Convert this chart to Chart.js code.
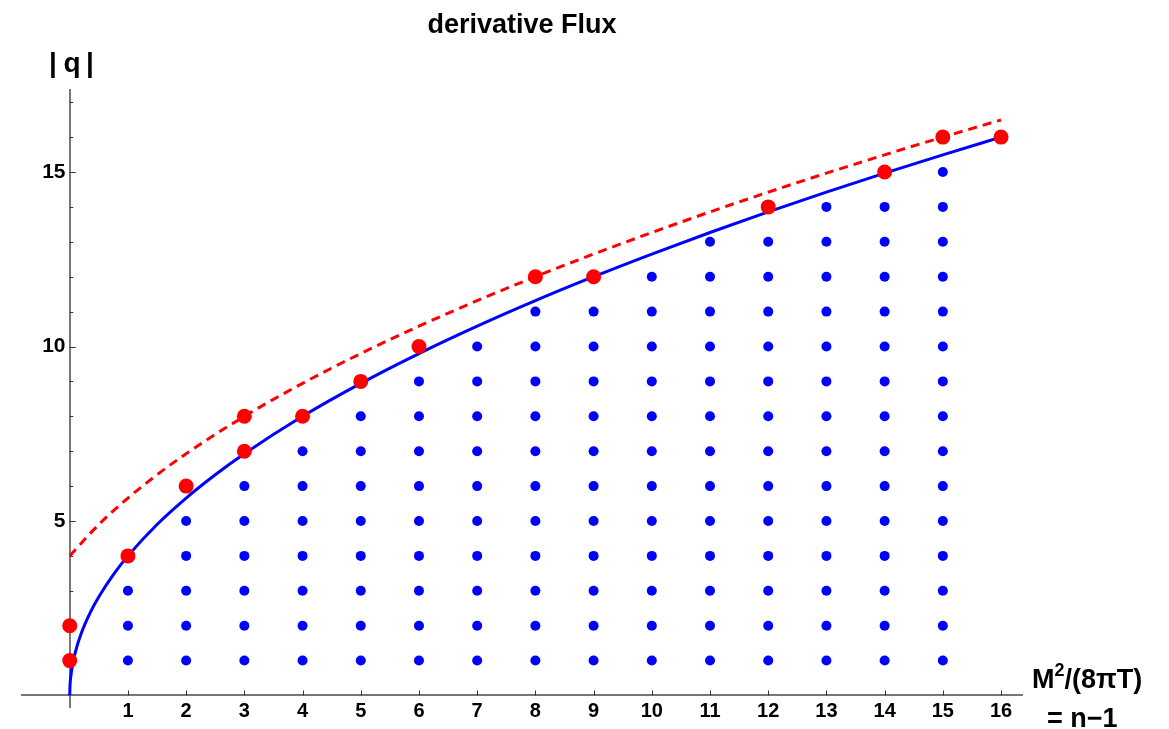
<!DOCTYPE html>
<html>
<head>
<meta charset="utf-8">
<script src="https://cdn.jsdelivr.net/npm/chart.js@4"></script>
<style>
  body { margin: 0; background: #fff; }
  #wrap { width: 1169px; height: 729px; }
</style>
</head>
<body>
<div id="wrap"><canvas id="grafico"></canvas></div>
<script>
// dot columns: x value and the highest blue dot in that column (dots start at 1)
const columnsX = [1, 2, 3, 4, 5, 6, 7, 8, 9, 10, 11, 12, 13, 14, 15]
const columnsTop = [3, 5, 6, 7, 8, 9, 10, 11, 11, 12, 13, 13, 14, 14, 15]

// big red dots
const redX = [0, 0, 1, 2, 3, 3, 4, 5, 6, 8, 9, 12, 14, 15, 16]
const redY = [1, 2, 4, 6, 7, 8, 8, 9, 10, 12, 12, 14, 15, 16, 16]

// blue solid curve
const solidX = [0, 0.005, 0.02, 0.05, 0.1, 0.2, 0.35, 0.5, 0.75, 1, 1.5, 2, 2.5, 3, 4, 5, 6, 7, 8, 9, 10, 11, 12, 13, 14, 15, 16]
const solidY = [0, 0.283, 0.566, 0.894, 1.265, 1.789, 2.366, 2.828, 3.464, 4, 4.899, 5.657, 6.325, 6.928, 8, 8.944, 9.798, 10.583, 11.314, 12, 12.649, 13.266, 13.856, 14.422, 14.967, 15.492, 16]

// red dashed curve
const dashedX = [0, 0.5, 1, 1.5, 2, 3, 4, 5, 6, 7, 8, 9, 10, 11, 12, 13, 14, 15, 16]
const dashedY = [4, 4.899, 5.657, 6.325, 6.928, 8, 8.944, 9.798, 10.583, 11.314, 12, 12.649, 13.266, 13.856, 14.422, 14.967, 15.492, 16, 16.492]

const xTicks = [1, 2, 3, 4, 5, 6, 7, 8, 9, 10, 11, 12, 13, 14, 15, 16]
const yTicks = [5, 10, 15]
const yMinorTicks = [1, 2, 3, 4, 6, 7, 8, 9, 11, 12, 13, 14, 16, 17]

const FONT = "'Liberation Sans', Arial, sans-serif"

function pares(xs, ys) {
  return xs.map((x, i) => ({ x: x, y: ys[i] }))
}

var bluePoints = []
columnsX.forEach(function(x, i) {
  for (var q = 1; q <= columnsTop[i]; q++) bluePoints.push({ x: x, y: q })
})

// ticks pointing inwards + the axis titles, like Mathematica does
const eixos = {
  id: 'eixos',
  beforeDatasetsDraw(chart) {
    const ctx = chart.ctx
    const sx = chart.scales.x
    const sy = chart.scales.y
    const x0 = sx.getPixelForValue(0)
    const y0 = sy.getPixelForValue(0)
    ctx.save()
    ctx.strokeStyle = '#333'
    ctx.lineWidth = 1
    ctx.beginPath()
    xTicks.forEach(v => {
      const px = Math.round(sx.getPixelForValue(v)) + 0.5
      ctx.moveTo(px, y0)
      ctx.lineTo(px, y0 - 5)
    })
    yTicks.forEach(v => {
      const py = Math.round(sy.getPixelForValue(v)) + 0.5
      ctx.moveTo(x0, py)
      ctx.lineTo(x0 + 6, py)
    })
    yMinorTicks.forEach(v => {
      const py = Math.round(sy.getPixelForValue(v)) + 0.5
      ctx.moveTo(x0, py)
      ctx.lineTo(x0 + 3.5, py)
    })
    ctx.stroke()
    ctx.restore()
  },
  afterDraw(chart) {
    const ctx = chart.ctx
    ctx.save()
    ctx.fillStyle = '#000'
    ctx.textBaseline = 'alphabetic'
    ctx.font = 'bold 28px ' + FONT
    ctx.textAlign = 'center'
    ctx.fillText('|', 53, 72)
    ctx.fillText('q', 72, 72)
    ctx.fillText('|', 90, 72)

    ctx.textAlign = 'left'
    ctx.font = 'bold 27px ' + FONT
    ctx.fillText('M', 1032, 688)
    var w = ctx.measureText('M').width
    ctx.font = 'bold 18px ' + FONT
    ctx.fillText('2', 1032 + w, 676)
    var w2 = ctx.measureText('2').width
    ctx.font = 'bold 27px ' + FONT
    ctx.fillText('/(8πT)', 1032 + w + w2, 688)
    ctx.fillText('= n\u22121', 1047, 727)
    ctx.restore()
  }
}

const chart = new Chart(document.getElementById('grafico'), {
  type: 'scatter',
  data: {
    datasets: [
      {
        label: 'red',
        data: pares(redX, redY),
        backgroundColor: '#ff0000',
        borderWidth: 0,
        pointRadius: 7.5
      },
      {
        label: 'solid',
        data: pares(solidX, solidY),
        showLine: true,
        borderColor: '#0000ff',
        borderWidth: 3,
        pointRadius: 0,
        cubicInterpolationMode: 'monotone'
      },
      {
        label: 'dashed',
        data: pares(dashedX, dashedY),
        showLine: true,
        borderColor: '#ff0000',
        borderWidth: 3,
        borderDash: [9, 6],
        pointRadius: 0,
        cubicInterpolationMode: 'monotone'
      },
      {
        label: 'blue',
        data: bluePoints,
        backgroundColor: '#0000ff',
        borderWidth: 0,
        pointRadius: 5
      }
    ]
  },
  options: {
    responsive: true,
    maintainAspectRatio: false,
    animation: false,
    events: [],
    layout: { padding: { left: 22, right: 147, top: 0, bottom: 22 } },
    plugins: {
      legend: { display: false },
      tooltip: { enabled: false },
      title: {
        display: true,
        text: 'derivative Flux',
        color: '#000',
        font: { family: FONT, size: 27, weight: 'bold' },
        padding: { top: 9.3, bottom: 48.3 }
      }
    },
    scales: {
      x: {
        type: 'linear',
        min: -0.82,
        max: 16.36,
        position: { y: 0 },
        grid: { display: false, drawTicks: false },
        border: { display: true, color: '#777', width: 2 },
        afterBuildTicks: s => { s.ticks = xTicks.map(v => ({ value: v })) },
        afterFit: s => { s.height = 0 },
        ticks: {
          autoSkip: false,
          maxRotation: 0,
          padding: 4,
          color: '#000',
          font: { family: FONT, size: 20, weight: 'bold' }
        }
      },
      y: {
        type: 'linear',
        min: -0.33,
        max: 17.35,
        position: { x: 0 },
        grid: { display: false, drawTicks: false },
        border: { display: true, color: '#777', width: 2 },
        afterBuildTicks: s => { s.ticks = yTicks.map(v => ({ value: v })) },
        afterFit: s => { s.width = 0 },
        ticks: {
          autoSkip: false,
          color: '#000',
          font: { family: FONT, size: 21, weight: 'bold' },
          // labels sit right on the axis otherwise
          callback: v => v + '\u2009'
        }
      }
    }
  },
  plugins: [eixos]
})
</script>
</body>
</html>
